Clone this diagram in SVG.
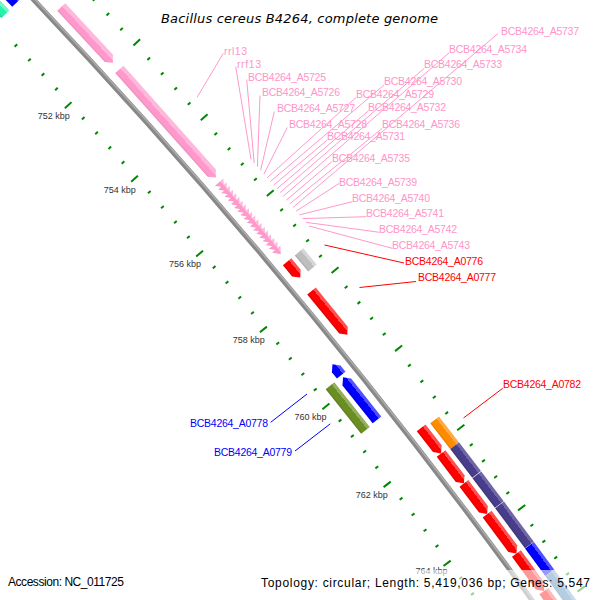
<svg xmlns="http://www.w3.org/2000/svg" xmlns:xlink="http://www.w3.org/1999/xlink" width="600" height="600" viewBox="0 0 600 600">
<style>
.lbl{font-family:"Liberation Sans",Arial,sans-serif;font-size:10.5px}
.pk{fill:#FF94C9}.rd{fill:#FF0000}.bl{fill:#0000FF}
.tk{font-family:"Liberation Sans",Arial,sans-serif;font-size:9px;fill:#333;text-anchor:middle}
.ft{font-family:"Liberation Sans",Arial,sans-serif;font-size:12px;fill:#000}
.conn line{stroke-width:1}
.cp{stroke:#FF99CC}.cr{stroke:#FF0000}.cb{stroke:#0000FF}
</style>
<defs>
<linearGradient id="gPink" x1="0" y1="0" x2="1" y2="0"><stop offset="0" stop-color="#E88BBA"/><stop offset="0.18" stop-color="#FF99CC"/><stop offset="0.62" stop-color="#FF99CC"/><stop offset="0.62" stop-color="#FFB8DC"/><stop offset="1" stop-color="#FFB8DC"/></linearGradient>
<linearGradient id="gRed" x1="0" y1="0" x2="1" y2="0"><stop offset="0" stop-color="#DD0000"/><stop offset="0.18" stop-color="#FF0000"/><stop offset="0.7" stop-color="#FF0000"/><stop offset="0.7" stop-color="#FF5050"/><stop offset="1" stop-color="#FF5050"/></linearGradient>
<linearGradient id="gBlue" x1="0" y1="0" x2="1" y2="0"><stop offset="0" stop-color="#0000D0"/><stop offset="0.18" stop-color="#0000FF"/><stop offset="0.7" stop-color="#0000FF"/><stop offset="0.7" stop-color="#5050FF"/><stop offset="1" stop-color="#5050FF"/></linearGradient>
<linearGradient id="gOlive" x1="0" y1="0" x2="1" y2="0"><stop offset="0" stop-color="#5A781D"/><stop offset="0.18" stop-color="#6B8E23"/><stop offset="0.7" stop-color="#6B8E23"/><stop offset="0.7" stop-color="#93AD5F"/><stop offset="1" stop-color="#93AD5F"/></linearGradient>
<linearGradient id="gOrange" x1="0" y1="0" x2="1" y2="0"><stop offset="0" stop-color="#E07B00"/><stop offset="0.18" stop-color="#FF8C00"/><stop offset="0.7" stop-color="#FF8C00"/><stop offset="0.7" stop-color="#FFAA44"/><stop offset="1" stop-color="#FFAA44"/></linearGradient>
<linearGradient id="gPurple" x1="0" y1="0" x2="1" y2="0"><stop offset="0" stop-color="#3B3272"/><stop offset="0.18" stop-color="#483D8B"/><stop offset="0.7" stop-color="#483D8B"/><stop offset="0.7" stop-color="#6F66A8"/><stop offset="1" stop-color="#6F66A8"/></linearGradient>
<linearGradient id="gSteel" x1="0" y1="0" x2="1" y2="0"><stop offset="0" stop-color="#3A6D97"/><stop offset="0.18" stop-color="#4682B4"/><stop offset="0.7" stop-color="#4682B4"/><stop offset="0.7" stop-color="#74A3CA"/><stop offset="1" stop-color="#74A3CA"/></linearGradient>
<linearGradient id="gGray" x1="0" y1="0" x2="1" y2="0"><stop offset="0" stop-color="#A8A8A8"/><stop offset="0.18" stop-color="#BEBEBE"/><stop offset="0.7" stop-color="#BEBEBE"/><stop offset="0.7" stop-color="#D6D6D6"/><stop offset="1" stop-color="#D6D6D6"/></linearGradient>
<linearGradient id="gCyan" x1="0" y1="0" x2="1" y2="0"><stop offset="0" stop-color="#20C890"/><stop offset="0.18" stop-color="#28F0AA"/><stop offset="0.7" stop-color="#28F0AA"/><stop offset="0.7" stop-color="#70F5C8"/><stop offset="1" stop-color="#70F5C8"/></linearGradient>
<g id="tmaj" stroke="#008800" stroke-width="2"><line x1="-51" y1="0" x2="-42" y2="0"/><line x1="42" y1="0" x2="51" y2="0"/></g>
<g id="tmin" stroke="#008800" stroke-width="2"><line x1="-46" y1="0" x2="-42.5" y2="0"/><line x1="42.5" y1="0" x2="46" y2="0"/></g>
<polygon id="trna" points="9.5,-3.5 20.5,-3.5 15,3.5" fill="url(#gPink)"/>
</defs>
<rect width="600" height="600" fill="#FFFFFF"/>

<g id="backbone" transform="translate(-4296 4100)">
<circle cx="0" cy="0" r="5963" fill="none" stroke="#888888" stroke-width="5"/>
<circle cx="0" cy="0" r="5964.2" fill="none" stroke="#ABABAB" stroke-width="1.6"/>
</g>

<g id="ticks" transform="translate(-4296 4100)">
<use xlink:href="#tmin" transform="rotate(-43.814) translate(5963 0)"/>
<use xlink:href="#tmin" transform="rotate(-43.622) translate(5963 0)"/>
<use xlink:href="#tmin" transform="rotate(-43.238) translate(5963 0)"/>
<use xlink:href="#tmin" transform="rotate(-43.046) translate(5963 0)"/>
<use xlink:href="#tmin" transform="rotate(-42.854) translate(5963 0)"/>
<use xlink:href="#tmin" transform="rotate(-42.662) translate(5963 0)"/>
<use xlink:href="#tmaj" transform="rotate(-42.470) translate(5963 0)"/>
<use xlink:href="#tmin" transform="rotate(-42.278) translate(5963 0)"/>
<use xlink:href="#tmin" transform="rotate(-42.086) translate(5963 0)"/>
<use xlink:href="#tmin" transform="rotate(-41.894) translate(5963 0)"/>
<use xlink:href="#tmin" transform="rotate(-41.702) translate(5963 0)"/>
<use xlink:href="#tmaj" transform="rotate(-41.510) translate(5963 0)"/>
<use xlink:href="#tmin" transform="rotate(-41.318) translate(5963 0)"/>
<use xlink:href="#tmin" transform="rotate(-41.126) translate(5963 0)"/>
<use xlink:href="#tmin" transform="rotate(-40.934) translate(5963 0)"/>
<use xlink:href="#tmin" transform="rotate(-40.742) translate(5963 0)"/>
<use xlink:href="#tmaj" transform="rotate(-40.550) translate(5963 0)"/>
<use xlink:href="#tmin" transform="rotate(-40.358) translate(5963 0)"/>
<use xlink:href="#tmin" transform="rotate(-40.166) translate(5963 0)"/>
<use xlink:href="#tmin" transform="rotate(-39.974) translate(5963 0)"/>
<use xlink:href="#tmin" transform="rotate(-39.782) translate(5963 0)"/>
<use xlink:href="#tmaj" transform="rotate(-39.590) translate(5963 0)"/>
<use xlink:href="#tmin" transform="rotate(-39.398) translate(5963 0)"/>
<use xlink:href="#tmin" transform="rotate(-39.206) translate(5963 0)"/>
<use xlink:href="#tmin" transform="rotate(-39.014) translate(5963 0)"/>
<use xlink:href="#tmin" transform="rotate(-38.822) translate(5963 0)"/>
<use xlink:href="#tmaj" transform="rotate(-38.630) translate(5963 0)"/>
<use xlink:href="#tmin" transform="rotate(-38.438) translate(5963 0)"/>
<use xlink:href="#tmin" transform="rotate(-38.246) translate(5963 0)"/>
<use xlink:href="#tmin" transform="rotate(-38.054) translate(5963 0)"/>
<use xlink:href="#tmin" transform="rotate(-37.862) translate(5963 0)"/>
<use xlink:href="#tmaj" transform="rotate(-37.670) translate(5963 0)"/>
<use xlink:href="#tmin" transform="rotate(-37.478) translate(5963 0)"/>
<use xlink:href="#tmin" transform="rotate(-37.286) translate(5963 0)"/>
<use xlink:href="#tmin" transform="rotate(-37.094) translate(5963 0)"/>
<use xlink:href="#tmin" transform="rotate(-36.902) translate(5963 0)"/>
<use xlink:href="#tmaj" transform="rotate(-36.710) translate(5963 0)"/>
<use xlink:href="#tmin" transform="rotate(-36.518) translate(5963 0)"/>
<use xlink:href="#tmin" transform="rotate(-36.326) translate(5963 0)"/>
<use xlink:href="#tmin" transform="rotate(-36.134) translate(5963 0)"/>
<use xlink:href="#tmin" transform="rotate(-35.942) translate(5963 0)"/>
<use xlink:href="#tmaj" transform="rotate(-35.750) translate(5963 0)"/>
<use xlink:href="#tmin" transform="rotate(-35.558) translate(5963 0)"/>
</g>

<g id="tick-labels">
<text class="tk" x="53.7" y="119">752 kbp</text>
<text class="tk" x="119.7" y="193.3">754 kbp</text>
<text class="tk" x="185" y="267.3">756 kbp</text>
<text class="tk" x="248.8" y="343.3">758 kbp</text>
<text class="tk" x="310.5" y="420">760 kbp</text>
<text class="tk" x="371.7" y="497.7">762 kbp</text>
<text class="tk" x="431.5" y="574">764 kbp</text>
</g>

<g id="features" transform="translate(-4296 4100)">
<g id="f_cyan" transform="rotate(-43.9604) translate(5963 0)"><rect x="-36" y="-44.75" width="11" height="89.5" fill="url(#gCyan)"/></g>
<g id="f_blue_tl" transform="rotate(-43.9628) translate(5963 0)"><rect x="-20.5" y="-44.5" width="11" height="89" fill="url(#gBlue)"/></g>
<g id="f_rrs" transform="rotate(-42.8444) translate(5963 0)"><polygon points="9.5,-38 20.5,-38 20.5,32 15,38 9.5,32" fill="url(#gPink)"/></g>
<g id="f_rrl13" transform="rotate(-41.6972) translate(5963 0)"><polygon points="9.5,-72.5 20.5,-72.5 20.5,66.5 15,72.5 9.5,66.5" fill="url(#gPink)"/></g>
<g id="f_rrf13" transform="rotate(-40.9148) translate(5963 0)"><use xlink:href="#trna"/></g>
<g id="f_A5725" transform="rotate(-40.8680) translate(5963 0)"><use xlink:href="#trna"/></g>
<g id="f_A5726" transform="rotate(-40.8212) translate(5963 0)"><use xlink:href="#trna"/></g>
<g id="f_A5727" transform="rotate(-40.7744) translate(5963 0)"><use xlink:href="#trna"/></g>
<g id="f_A5728" transform="rotate(-40.7276) translate(5963 0)"><use xlink:href="#trna"/></g>
<g id="f_A5729" transform="rotate(-40.6808) translate(5963 0)"><use xlink:href="#trna"/></g>
<g id="f_A5730" transform="rotate(-40.6340) translate(5963 0)"><use xlink:href="#trna"/></g>
<g id="f_A5731" transform="rotate(-40.5872) translate(5963 0)"><use xlink:href="#trna"/></g>
<g id="f_A5732" transform="rotate(-40.5404) translate(5963 0)"><use xlink:href="#trna"/></g>
<g id="f_A5733" transform="rotate(-40.4936) translate(5963 0)"><use xlink:href="#trna"/></g>
<g id="f_A5734" transform="rotate(-40.4468) translate(5963 0)"><use xlink:href="#trna"/></g>
<g id="f_A5735" transform="rotate(-40.4000) translate(5963 0)"><use xlink:href="#trna"/></g>
<g id="f_A5736" transform="rotate(-40.3532) translate(5963 0)"><use xlink:href="#trna"/></g>
<g id="f_A5737" transform="rotate(-40.3064) translate(5963 0)"><use xlink:href="#trna"/></g>
<g id="f_A5739" transform="rotate(-40.2596) translate(5963 0)"><use xlink:href="#trna"/></g>
<g id="f_A5740" transform="rotate(-40.2128) translate(5963 0)"><use xlink:href="#trna"/></g>
<g id="f_A5741" transform="rotate(-40.1660) translate(5963 0)"><use xlink:href="#trna"/></g>
<g id="f_A5742" transform="rotate(-40.1192) translate(5963 0)"><use xlink:href="#trna"/></g>
<g id="f_A5743" transform="rotate(-40.0724) translate(5963 0)"><use xlink:href="#trna"/></g>
<g id="f_A0776" transform="rotate(-39.8468) translate(5963 0)"><polygon points="9.5,-10.25 20.5,-10.25 20.5,4.25 15,10.25 9.5,4.25" fill="url(#gRed)"/></g>
<g id="f_gray" transform="rotate(-39.8444) translate(5963 0)"><rect x="25" y="-10.5" width="11" height="21" fill="url(#gGray)"/></g>
<g id="f_A0777" transform="rotate(-39.3092) translate(5963 0)"><polygon points="9.5,-28.25 20.5,-28.25 20.5,22.25 15,28.25 9.5,22.25" fill="url(#gRed)"/></g>
<g id="f_A0778" transform="rotate(-38.8412) translate(5963 0)"><polygon points="-20.5,7 -9.5,7 -9.5,-1 -15,-7 -20.5,-1" fill="url(#gBlue)"/></g>
<g id="f_A0779" transform="rotate(-38.4836) translate(5963 0)"><polygon points="-20.5,27.25 -9.5,27.25 -9.5,-21.25 -15,-27.25 -20.5,-21.25" fill="url(#gBlue)"/></g>
<g id="f_olive" transform="rotate(-38.486) translate(5963 0)"><rect x="-36" y="-28.5" width="11" height="57" fill="url(#gOlive)"/></g>
<g id="f_red1" transform="rotate(-37.7444) translate(5963 0)"><polygon points="9.5,-16.25 20.5,-16.25 20.5,10.25 15,16.25 9.5,10.25" fill="url(#gRed)"/></g>
<g id="f_red2" transform="rotate(-37.4084) translate(5963 0)"><polygon points="9.5,-18.75 20.5,-18.75 20.5,12.75 15,18.75 9.5,12.75" fill="url(#gRed)"/></g>
<g id="f_red3" transform="rotate(-37.0436) translate(5963 0)"><polygon points="9.5,-19.25 20.5,-19.25 20.5,13.25 15,19.25 9.5,13.25" fill="url(#gRed)"/></g>
<g id="f_red4" transform="rotate(-36.6236) translate(5963 0)"><polygon points="9.5,-24.5 20.5,-24.5 20.5,18.5 15,24.5 9.5,18.5" fill="url(#gRed)"/></g>
<g id="f_red5" transform="rotate(-36.1652) translate(5963 0)"><polygon points="9.5,-23.25 20.5,-23.25 20.5,17.25 15,23.25 9.5,17.25" fill="url(#gRed)"/></g>
<g id="f_red6" transform="rotate(-35.702) translate(5963 0)"><polygon points="9.5,-25 20.5,-25 20.5,19 15,25 9.5,19" fill="url(#gRed)"/></g>
<g id="f_A0782" transform="rotate(-37.7252) translate(5963 0)"><rect x="25" y="-16.25" width="11" height="32.5" fill="url(#gOrange)"/></g>
<g id="f_purple1" transform="rotate(-37.394) translate(5963 0)"><rect x="25" y="-18.25" width="11" height="36.2" fill="url(#gPurple)"/></g>
<g id="f_purple2" transform="rotate(-37.0388) translate(5963 0)"><rect x="25" y="-18.75" width="11" height="37.2" fill="url(#gPurple)"/></g>
<g id="f_purple3" transform="rotate(-36.6188) translate(5963 0)"><rect x="25" y="-25" width="11" height="50" fill="url(#gPurple)"/></g>
<g id="f_blue_out" transform="rotate(-36.2144) translate(5963 0)"><rect x="25" y="-17.125" width="11" height="34.25" fill="url(#gBlue)"/></g>
<g id="f_steel" transform="rotate(-35.756) translate(5963 0)"><rect x="25" y="-30.625" width="11" height="61.25" fill="url(#gSteel)"/></g>
</g>

<g id="connectors" class="conn">
<line class="cp" x1="223.3" y1="53.3" x2="197.1" y2="97.3"/>
<line class="cp" x1="235.7" y1="66.7" x2="251.0" y2="159.2"/>
<line class="cp" x1="246.7" y1="79.5" x2="254.2" y2="163.0"/>
<line class="cp" x1="260" y1="95.5" x2="257.4" y2="166.7"/>
<line class="cp" x1="274.3" y1="111.5" x2="260.6" y2="170.4"/>
<line class="cp" x1="287.3" y1="127.5" x2="263.9" y2="174.1"/>
<line class="cp" x1="356" y1="97.5" x2="267.1" y2="177.8"/>
<line class="cp" x1="384" y1="85" x2="270.3" y2="181.5"/>
<line class="cp" x1="327.3" y1="140" x2="273.5" y2="185.2"/>
<line class="cp" x1="368.3" y1="111" x2="276.8" y2="188.9"/>
<line class="cp" x1="424.3" y1="68.3" x2="280.0" y2="192.6"/>
<line class="cp" x1="449.3" y1="52.7" x2="283.2" y2="196.3"/>
<line class="cp" x1="331.7" y1="161.7" x2="286.4" y2="200.1"/>
<line class="cp" x1="382.3" y1="128.3" x2="289.7" y2="203.8"/>
<line class="cp" x1="498.3" y1="33.3" x2="292.9" y2="207.5"/>
<line class="cp" x1="339.3" y1="183.3" x2="296.1" y2="211.2"/>
<line class="cp" x1="352.3" y1="201.7" x2="299.3" y2="214.9"/>
<line class="cp" x1="366" y1="216.7" x2="302.6" y2="218.6"/>
<line class="cp" x1="379.3" y1="232.3" x2="305.8" y2="222.3"/>
<line class="cp" x1="392.3" y1="248.3" x2="309.0" y2="226.0"/>
<line class="cr" x1="324.5" y1="245" x2="404" y2="263"/>
<line class="cr" x1="359.5" y1="287.5" x2="416" y2="281.5"/>
<line class="cr" x1="463.5" y1="418" x2="502.7" y2="388.3"/>
<line class="cb" x1="270.7" y1="422.3" x2="307" y2="394"/>
<line class="cb" x1="295" y1="451" x2="330.3" y2="423.8"/>
</g>

<g id="labels">
<text class="lbl pk" x="224" y="55" textLength="23">rrl13</text>
<text class="lbl pk" x="237" y="68" textLength="24">rrf13</text>
<text class="lbl pk" x="248" y="81" textLength="78">BCB4264_A5725</text>
<text class="lbl pk" x="262" y="96" textLength="78">BCB4264_A5726</text>
<text class="lbl pk" x="277" y="112" textLength="78">BCB4264_A5727</text>
<text class="lbl pk" x="289" y="128" textLength="78">BCB4264_A5728</text>
<text class="lbl pk" x="356" y="98" textLength="78">BCB4264_A5729</text>
<text class="lbl pk" x="384" y="85" textLength="78">BCB4264_A5730</text>
<text class="lbl pk" x="327" y="140" textLength="78">BCB4264_A5731</text>
<text class="lbl pk" x="368" y="111" textLength="78">BCB4264_A5732</text>
<text class="lbl pk" x="424" y="68" textLength="78">BCB4264_A5733</text>
<text class="lbl pk" x="449" y="53" textLength="78">BCB4264_A5734</text>
<text class="lbl pk" x="332" y="162" textLength="78">BCB4264_A5735</text>
<text class="lbl pk" x="382" y="128" textLength="78">BCB4264_A5736</text>
<text class="lbl pk" x="501" y="35" textLength="78">BCB4264_A5737</text>
<text class="lbl pk" x="339" y="186" textLength="78">BCB4264_A5739</text>
<text class="lbl pk" x="352" y="202" textLength="78">BCB4264_A5740</text>
<text class="lbl pk" x="366" y="217" textLength="78">BCB4264_A5741</text>
<text class="lbl pk" x="379" y="233" textLength="78">BCB4264_A5742</text>
<text class="lbl pk" x="392" y="249" textLength="78">BCB4264_A5743</text>
<text class="lbl rd" x="405" y="265" textLength="78">BCB4264_A0776</text>
<text class="lbl rd" x="418" y="281" textLength="78">BCB4264_A0777</text>
<text class="lbl rd" x="503" y="388" textLength="78">BCB4264_A0782</text>
<text class="lbl bl" x="190" y="427" textLength="78">BCB4264_A0778</text>
<text class="lbl bl" x="214" y="456" textLength="78">BCB4264_A0779</text>
</g>

<rect id="legend-box" x="255" y="570" width="345" height="30" fill="#FFFFFF" fill-opacity="0.6"/>

<g id="title-legend">
<text x="299.5" y="23" text-anchor="middle" font-family="'DejaVu Sans',Verdana,sans-serif" font-style="italic" font-size="13" fill="#000" textLength="277">Bacillus cereus B4264, complete genome</text>
<text class="ft" x="8" y="586" textLength="116">Accession: NC_011725</text>
<text class="ft" x="261" y="587" textLength="329">Topology: circular; Length: 5,419,036 bp; Genes: 5,547</text>
</g>
</svg>
